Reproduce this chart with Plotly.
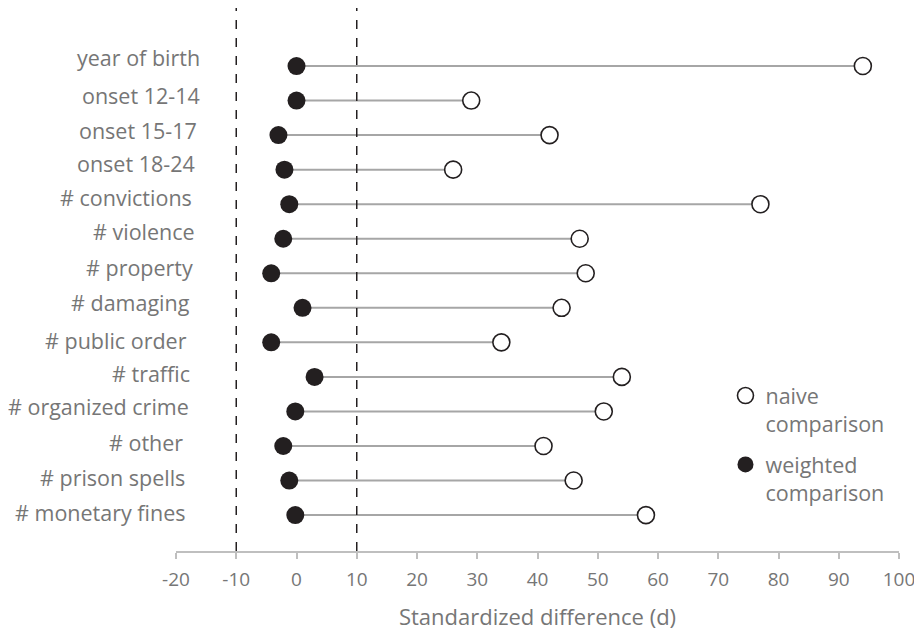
import plotly.graph_objects as go

categories = ["year of birth", "onset 12-14", "onset 15-17", "onset 18-24", "# convictions",
              "# violence", "# property", "# damaging", "# public order", "# traffic",
              "# organized crime", "# other", "# prison spells", "# monetary fines"]
naive = [94, 29, 42, 26, 77, 47, 48, 44, 34, 54, 51, 41, 46, 58]
weighted = [0, 0, -3, -2, -1.2, -2.2, -4.2, 1, -4.2, 3, -0.2, -2.2, -1.2, -0.2]
thresholds = [-10, 10]
x_ticks = list(range(-20, 101, 10))

# label placement styling (pixel nudges, not data)
label_dx = [0, 0, -3, -5, -8, -5, -7, -10, -13, -10, -11, -17, -15, -14]
label_dy = [9, 5, 5, 6, 7, 7, 6, 5, 2, 3, 5, 3, 3, 3]

FONT = "'Open Sans', sans-serif"
GRAY = "#767676"
BLACK = "#231f20"

ypos = list(range(len(categories)))

lx, ly = [], []
for i, (w, n) in enumerate(zip(weighted, naive)):
    lx += [w, n, None]
    ly += [i, i, None]

fig = go.Figure()
fig.add_trace(go.Scatter(x=lx, y=ly, mode="lines", line=dict(color="#a6a6a6", width=2),
                         showlegend=False, hoverinfo="skip"))
fig.add_trace(go.Scatter(x=naive, y=ypos, mode="markers", name="naive<br>comparison",
                         legendgroup="a",
                         marker=dict(size=17, color="white", line=dict(color=BLACK, width=1.6))))
fig.add_trace(go.Scatter(x=weighted, y=ypos, mode="markers", name="weighted<br>comparison",
                         legendgroup="b",
                         marker=dict(size=18, color=BLACK, line=dict(color=BLACK, width=0))))

for t in thresholds:
    fig.add_shape(type="line", xref="x", yref="paper", x0=t, x1=t, y0=0, y1=1,
                  line=dict(color=BLACK, width=1.5, dash="dash"))

for i, c in enumerate(categories):
    fig.add_annotation(x=0, xref="paper", xanchor="right", xshift=26 + label_dx[i], y=i, yref="y",
                       yshift=label_dy[i], text=c, showarrow=False,
                       font=dict(family=FONT, size=21.5, color=GRAY))

fig.update_xaxes(range=[-20, 100], tickvals=x_ticks, ticktext=[str(v) for v in x_ticks],
                 showgrid=False, zeroline=False, showline=True, linecolor="#bfbfbf", linewidth=1.5,
                 ticks="outside", ticklen=6, tickcolor="#bfbfbf", tickwidth=1.5,
                 ticklabelstandoff=4,
                 tickfont=dict(family=FONT, size=19, color=GRAY),
                 title=dict(text="Standardized difference (d)", font=dict(family=FONT, size=22, color=GRAY),
                            standoff=19))
fig.update_yaxes(range=[13 + 1.04, -1.68], showticklabels=False, showgrid=False, zeroline=False,
                 showline=False, ticks="")

fig.update_layout(
    width=914, height=624, plot_bgcolor="white", paper_bgcolor="white",
    margin=dict(l=168, r=23, t=0, b=81),
    showlegend=True,
    legend=dict(x=0.760, y=0.324, xanchor="left", yanchor="top", font=dict(family=FONT, size=21.5, color=GRAY),
                valign="top", bgcolor="rgba(0,0,0,0)", tracegroupgap=10, itemwidth=30,
                traceorder="grouped"),
)

fig.write_html("out.html")
